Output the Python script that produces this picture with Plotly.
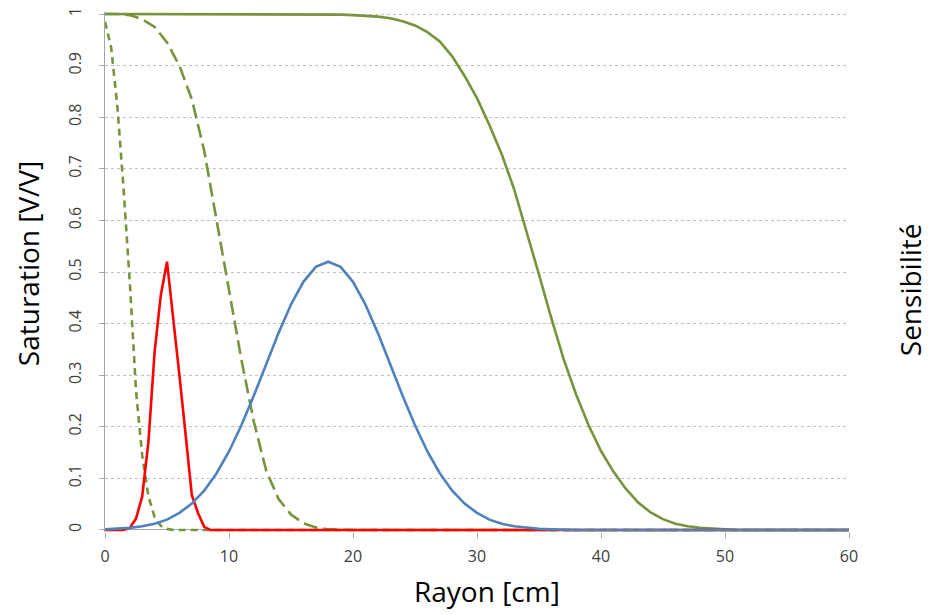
import plotly.graph_objects as go

# x positions (cm)
rayon = list(range(0, 61))
rayon_fin = [0, 0.5, 1, 1.5, 2, 2.5, 3, 3.5, 4, 4.5, 5, 5.5, 6, 6.5, 7, 7.5,
             8, 8.5, 9, 10, 20, 30, 40, 50, 60]

# Saturation, solid green (1 cm step)
sat_haute = [1.0, 1.0, 1.0, 1.0, 1.0, 1.0, 1.0, 1.0, 1.0, 1.0,
             1.0, 1.0, 1.0, 1.0, 1.0, 1.0, 1.0, 1.0, 1.0, 0.999,
             0.998, 0.997, 0.995, 0.992, 0.986, 0.978, 0.965, 0.947, 0.918, 0.88,
             0.837, 0.785, 0.728, 0.66, 0.58, 0.495, 0.41, 0.33, 0.262, 0.203,
             0.153, 0.113, 0.08, 0.053, 0.034, 0.021, 0.012, 0.007, 0.004, 0.002,
             0.001, 0.0, 0.0, 0.0, 0.0, 0.0, 0.0, 0.0, 0.0, 0.0, 0.0]

# Saturation, long-dashed green (1 cm step)
sat_moyenne = [1.0, 1.0, 0.998, 0.99, 0.975, 0.945, 0.90, 0.835, 0.735, 0.60,
               0.47, 0.33, 0.21, 0.115, 0.06, 0.03, 0.013, 0.005, 0.001, 0.0,
               0.0, 0.0, 0.0, 0.0, 0.0, 0.0, 0.0, 0.0, 0.0, 0.0,
               0.0, 0.0, 0.0, 0.0, 0.0, 0.0, 0.0, 0.0, 0.0, 0.0,
               0.0, 0.0, 0.0, 0.0, 0.0, 0.0, 0.0, 0.0, 0.0, 0.0,
               0.0, 0.0, 0.0, 0.0, 0.0, 0.0, 0.0, 0.0, 0.0, 0.0, 0.0]

# Saturation, short-dashed green (fine step)
sat_basse = [0.985, 0.935, 0.82, 0.66, 0.48, 0.27, 0.145, 0.065, 0.025, 0.008,
             0.002, 0.0, 0.0, 0.0, 0.0, 0.0, 0.0, 0.0, 0.0, 0.0,
             0.0, 0.0, 0.0, 0.0, 0.0]

# Sensibilité, red (fine step)
sens_proche = [0.0, 0.0, 0.0, 0.0, 0.004, 0.022, 0.065, 0.17, 0.345, 0.455,
               0.52, 0.415, 0.30, 0.185, 0.068, 0.033, 0.006, 0.0, 0.0, 0.0,
               0.0, 0.0, 0.0, 0.0, 0.0]

# Sensibilité, blue (1 cm step)
sens_profonde = [0.001, 0.002, 0.004, 0.007, 0.012, 0.02, 0.033, 0.051, 0.076, 0.11,
                 0.152, 0.203, 0.26, 0.321, 0.382, 0.437, 0.481, 0.51, 0.52, 0.51,
                 0.481, 0.437, 0.382, 0.321, 0.26, 0.203, 0.152, 0.11, 0.076, 0.051,
                 0.033, 0.02, 0.012, 0.007, 0.004, 0.002, 0.001, 0.0, 0.0, 0.0,
                 0.0, 0.0, 0.0, 0.0, 0.0, 0.0, 0.0, 0.0, 0.0, 0.0,
                 0.0, 0.0, 0.0, 0.0, 0.0, 0.0, 0.0, 0.0, 0.0, 0.0, 0.0]

y_ticks = [0, 0.1, 0.2, 0.3, 0.4, 0.5, 0.6, 0.7, 0.8, 0.9, 1]
y_tick_labels = ["0", "0.1", "0.2", "0.3", "0.4", "0.5", "0.6", "0.7", "0.8", "0.9", "1"]
x_ticks = [0, 10, 20, 30, 40, 50, 60]

GREEN = "#77933C"
RED = "#FF0000"
BLUE = "#4F81BD"
FONT = "Open Sans"

fig = go.Figure()
fig.add_trace(go.Scatter(x=rayon, y=sat_haute, mode="lines",
                         line=dict(color=GREEN, width=2.6)))
fig.add_trace(go.Scatter(x=rayon, y=sat_moyenne, mode="lines",
                         line=dict(color=GREEN, width=2.6, dash="14px,6px")))
fig.add_trace(go.Scatter(x=rayon_fin, y=sat_basse, mode="lines",
                         line=dict(color=GREEN, width=2.6, dash="7px,5px")))
fig.add_trace(go.Scatter(x=rayon_fin, y=sens_proche, mode="lines",
                         line=dict(color=RED, width=2.6)))
fig.add_trace(go.Scatter(x=rayon, y=sens_profonde, mode="lines",
                         line=dict(color=BLUE, width=2.6)))

fig.update_layout(
    width=928, height=615,
    margin=dict(l=105, r=79, t=12, b=83, autoexpand=False),
    paper_bgcolor="white", plot_bgcolor="white",
    showlegend=False,
    font=dict(family=FONT, color="#404040"),
    xaxis=dict(range=[0, 60], tickvals=x_ticks, showgrid=False, zeroline=False,
               showline=False, ticks="outside", ticklen=5, tickcolor="#a6a6a6",
               automargin=False, ticklabelstandoff=5,
               tickfont=dict(size=16, color="#404040", family=FONT)),
    yaxis=dict(range=[-0.004, 1.004], tickvals=y_ticks, ticktext=y_tick_labels,
               tickangle=-90, automargin=False, ticklabelstandoff=12,
               showgrid=True, gridcolor="#c0c0c0", griddash="3px,3px", gridwidth=1,
               zeroline=True, zerolinecolor="#a6a6a6", zerolinewidth=1,
               showline=True, linecolor="#a6a6a6", linewidth=1,
               ticks="outside", ticklen=5, tickcolor="#a6a6a6",
               tickfont=dict(size=16, color="#404040", family=FONT)),
    annotations=[
        dict(text="Rayon [cm]", xref="paper", yref="paper", x=0.5134, y=-0.113,
             xanchor="center", yanchor="middle", showarrow=False,
             font=dict(size=28, color="black", family=FONT)),
        dict(text="Saturation [V/V]", xref="paper", yref="paper", x=-0.1035, y=0.517,
             xanchor="center", yanchor="middle", showarrow=False, textangle=-90,
             font=dict(size=28, color="black", family=FONT)),
        dict(text="Sensibilité", xref="paper", yref="paper", x=1.082, y=0.465,
             xanchor="center", yanchor="middle", showarrow=False, textangle=-90,
             font=dict(size=28, color="black", family=FONT)),
    ],
)

fig.write_html("out.html", config={"displayModeBar": False},
               post_script="document.body.style.margin='0';document.body.style.overflow='hidden';")
